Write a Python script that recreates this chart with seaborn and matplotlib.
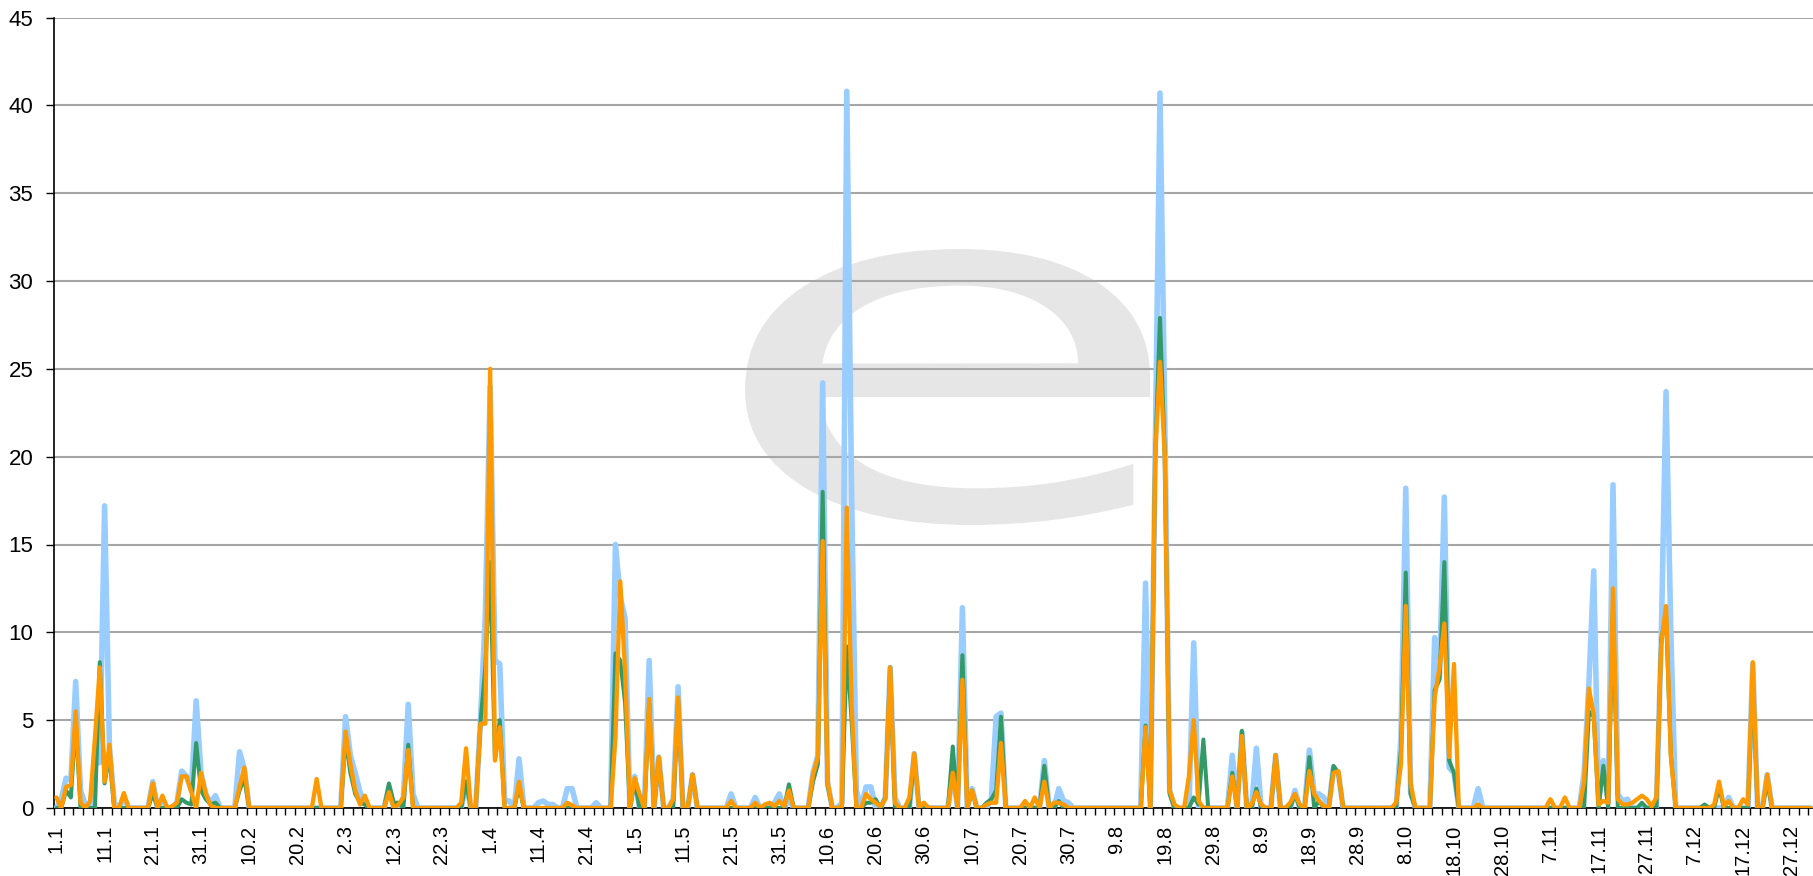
import numpy as np
import pandas as pd
import matplotlib
matplotlib.use('Agg')
import matplotlib.pyplot as plt
import seaborn as sns
from matplotlib.textpath import TextPath
from matplotlib.patches import PathPatch
from matplotlib.font_manager import FontProperties
from matplotlib.transforms import Affine2D

# daily values for one (non leap) year, only non-zero days are listed
n_days = 365
blue_peaks = {1: 0.5, 2: 1.7, 3: 1.6, 4: 7.2, 5: 1.0, 6: 0.2, 8: 2.5, 9: 2.6, 10: 17.2, 11: 3.5, 12: 0.3,
              14: 0.6, 20: 1.5, 22: 0.5, 25: 0.3, 26: 2.1, 27: 1.8, 28: 1.0, 29: 6.1, 30: 2.0, 31: 0.8,
              32: 0.3, 33: 0.7, 38: 3.2, 39: 2.2,
              60: 5.2, 61: 3.0, 62: 2.0, 63: 0.9, 64: 0.3, 69: 1.2, 72: 0.6, 73: 5.9, 74: 0.8, 85: 1.5,
              88: 5.0, 89: 11.0, 90: 24.0, 91: 8.4, 92: 8.2, 93: 0.4, 94: 0.4, 96: 2.8, 100: 0.3,
              101: 0.4, 102: 0.2, 103: 0.2, 106: 1.1, 107: 1.1, 112: 0.3, 116: 15.0, 117: 12.0, 118: 10.8,
              120: 1.8, 123: 8.4, 125: 2.9, 128: 0.5, 129: 6.9, 132: 1.9, 140: 0.8, 145: 0.6, 149: 0.3,
              150: 0.8, 152: 0.5,
              157: 2.0, 158: 3.0, 159: 24.2, 160: 1.5, 163: 0.3, 164: 40.8, 165: 18.0, 166: 1.0, 168: 1.2,
              169: 1.2, 172: 0.6, 173: 8.0, 174: 0.6, 178: 3.1, 186: 2.0, 188: 11.4, 190: 1.1, 194: 0.5,
              195: 5.2, 196: 5.4, 205: 2.7, 208: 1.1, 209: 0.4, 210: 0.3,
              226: 12.8, 228: 20.0, 229: 40.7, 230: 22.0, 231: 1.0, 236: 9.4, 244: 3.0, 246: 4.3,
              249: 3.4, 253: 3.0, 257: 1.0, 260: 3.3, 261: 0.8, 262: 0.8, 263: 0.6, 265: 2.3, 266: 2.0,
              279: 4.0, 280: 18.2, 281: 0.9, 286: 9.7, 287: 7.5, 288: 17.7, 289: 2.3, 290: 2.0, 295: 1.1,
              317: 2.0, 318: 7.1, 319: 13.5, 320: 0.3, 321: 2.7, 322: 0.3, 323: 18.4, 324: 0.8, 325: 0.4,
              326: 0.5, 333: 9.5, 334: 23.7, 335: 10.0, 347: 0.6, 352: 8.2, 355: 1.9}
green_peaks = {2: 1.0, 3: 0.6, 4: 5.0, 9: 8.3, 10: 1.4, 11: 3.0, 20: 0.8, 26: 0.5, 27: 0.3, 28: 0.2,
               29: 3.7, 30: 1.0, 31: 0.5, 32: 0.2, 33: 0.3, 38: 1.0, 39: 1.7,
               60: 4.0, 61: 2.0, 62: 0.8, 63: 0.3, 64: 0.2, 69: 1.4, 70: 0.3, 71: 0.3, 73: 3.6, 85: 1.5,
               88: 4.9, 89: 8.0, 90: 14.0, 91: 2.8, 92: 5.0, 96: 1.2,
               116: 8.8, 117: 8.4, 118: 6.0, 120: 1.5, 123: 6.0, 125: 2.8, 129: 6.2, 132: 1.9, 152: 1.35,
               157: 1.5, 158: 2.5, 159: 18.0, 160: 1.3, 164: 9.2, 165: 5.0, 168: 0.3, 169: 0.3, 170: 0.5,
               172: 0.6, 173: 8.0, 178: 3.0, 186: 3.5, 188: 8.7, 190: 1.0, 193: 0.3, 194: 0.5, 195: 1.0,
               196: 5.2, 205: 2.4, 208: 0.4,
               226: 4.7, 228: 20.0, 229: 27.9, 230: 20.0, 231: 0.8, 236: 0.6, 237: 0.2, 238: 3.9,
               244: 2.0, 246: 4.4, 249: 1.1, 253: 3.0, 257: 0.8, 260: 2.9, 262: 0.4, 265: 2.4, 266: 2.0,
               279: 3.3, 280: 13.4, 281: 0.8, 286: 6.7, 287: 7.3, 288: 14.0, 289: 2.7, 290: 2.0,
               318: 5.5, 319: 5.2, 321: 2.4, 323: 11.5, 329: 0.3, 333: 9.6, 334: 11.0, 335: 3.0,
               342: 0.2, 345: 1.2, 352: 7.5, 355: 1.5}
orange_peaks = {0: 0.6, 2: 1.2, 3: 1.3, 4: 5.5, 5: 0.3, 7: 0.4, 8: 4.0, 9: 8.0, 10: 1.5, 11: 3.6, 14: 0.85,
                20: 1.4, 22: 0.7, 24: 0.1, 25: 0.3, 26: 1.8, 27: 1.8, 28: 0.9, 30: 2.0, 31: 0.8, 32: 0.15,
                38: 1.2, 39: 2.3,
                54: 1.65, 60: 4.35, 61: 2.5, 62: 1.0, 63: 0.2, 64: 0.7, 69: 0.9, 71: 0.2, 72: 0.6, 73: 3.3,
                84: 0.3, 85: 3.4, 88: 4.8, 89: 4.8, 90: 25.0, 91: 2.7, 92: 4.6, 96: 1.5, 106: 0.3,
                107: 0.15, 116: 4.0, 117: 12.9, 118: 7.8, 120: 1.7, 121: 0.8, 123: 6.2, 125: 2.9,
                128: 0.5, 129: 6.3, 132: 1.9, 140: 0.4, 145: 0.3, 147: 0.2, 148: 0.3, 149: 0.1, 150: 0.4,
                151: 0.1, 152: 1.0,
                157: 1.9, 158: 2.9, 159: 15.2, 160: 1.5, 163: 0.1, 164: 17.1, 165: 6.0, 168: 0.8,
                169: 0.5, 170: 0.3, 171: 0.1, 172: 0.5, 173: 8.0, 174: 0.3, 177: 0.6, 178: 3.1, 180: 0.3,
                186: 2.0, 188: 7.3, 190: 1.0, 193: 0.2, 194: 0.3, 195: 0.3, 196: 3.7, 201: 0.4, 203: 0.6,
                205: 1.5, 207: 0.3, 208: 0.3, 209: 0.2,
                226: 4.6, 228: 20.0, 229: 25.4, 230: 20.0, 231: 1.0, 232: 0.2, 235: 1.8, 236: 5.0,
                237: 0.4, 244: 1.8, 246: 4.1, 248: 0.2, 249: 0.9, 250: 0.2, 253: 3.0, 256: 0.3, 257: 0.8,
                258: 0.2, 260: 2.1, 261: 0.8, 262: 0.4, 263: 0.1, 265: 2.0, 266: 2.1, 278: 0.3, 279: 2.5,
                280: 11.5, 281: 1.4, 286: 6.3, 287: 8.0, 288: 10.5, 289: 2.9, 290: 8.2, 295: 0.2,
                310: 0.5, 313: 0.6, 317: 1.5, 318: 6.8, 319: 5.3, 320: 0.2, 321: 0.4, 322: 0.3,
                323: 12.5, 324: 0.5, 325: 0.2, 326: 0.2, 327: 0.3, 328: 0.5, 329: 0.7, 330: 0.5,
                331: 0.1, 332: 0.6, 333: 9.3, 334: 11.5, 335: 3.0, 344: 0.2, 345: 1.5, 346: 0.1,
                347: 0.4, 350: 0.5, 351: 0.2, 352: 8.3, 355: 1.9}

tick_labels = ['1.1', '11.1', '21.1', '31.1', '10.2', '20.2', '2.3', '12.3', '22.3', '1.4', '11.4',
               '21.4', '1.5', '11.5', '21.5', '31.5', '10.6', '20.6', '30.6', '10.7', '20.7', '30.7',
               '9.8', '19.8', '29.8', '8.9', '18.9', '28.9', '8.10', '18.10', '28.10', '7.11', '17.11',
               '27.11', '7.12', '17.12', '27.12']


def build(peaks):
    s = np.zeros(n_days)
    for k, v in peaks.items():
        s[k] = v
    return s


days = np.arange(n_days)
df = pd.DataFrame({'day': days,
                   'blue': build(blue_peaks),
                   'green': build(green_peaks),
                   'orange': build(orange_peaks)})

sns.set_theme(style='white')
plt.rcParams['font.family'] = ['Liberation Sans', 'DejaVu Sans']

W, H = 1813, 876
fig = plt.figure(figsize=(W / 100, H / 100), dpi=100)
ax = fig.add_axes([54 / W, 1 - 808 / H, 1 - 54 / W, (808 - 17.5) / H])

# faint logo watermark behind the grid, stretched into its box (pixels from bottom-left)
logo = TextPath((0, 0), 'e', size=1, prop=FontProperties(family='DejaVu Sans'))
ext = logo.get_extents()
box_x0, box_x1, box_y0, box_y1 = 745, 1150, 876 - 525, 876 - 249
to_box = (Affine2D().translate(-ext.x0, -ext.y0)
          .scale((box_x1 - box_x0) / ext.width, (box_y1 - box_y0) / ext.height)
          .translate(box_x0, box_y0).scale(1 / W, 1 / H))
ax.add_patch(PathPatch(logo, transform=to_box + fig.transFigure, facecolor='#e6e6e6',
                       edgecolor='none', zorder=0.2))

series = [('blue', '#99ccff', 4.0), ('green', '#339966', 2.9), ('orange', '#ff9900', 3.1)]
for i, (col, colour, lw) in enumerate(series):
    sns.lineplot(data=df, x='day', y=col, color=colour, linewidth=lw, ax=ax,
                 solid_joinstyle='round', solid_capstyle='round', zorder=3 + i)

ax.set_xlim(-0.5, n_days - 0.5)
ax.set_ylim(0, 45)
ax.set_xlabel('')
ax.set_ylabel('')

ax.set_yticks(range(0, 46, 5))
ax.yaxis.grid(True, color='#a6a6a6', linewidth=1.5)
ax.xaxis.grid(False)
ax.set_axisbelow(True)

ax.set_xticks(np.arange(0, n_days, 10))
ax.set_xticklabels(tick_labels, rotation=90)
ax.set_xticks(np.arange(-0.5, n_days, 2), minor=True)
ax.tick_params(axis='x', which='major', length=0, pad=12, labelsize=14.5, labelcolor='black')
ax.tick_params(axis='x', which='minor', bottom=True, length=5, width=1, color='black', direction='out')
ax.tick_params(axis='y', left=True, length=6, width=1, color='black', labelsize=16, pad=9,
               labelcolor='black', direction='out')

for side in ['top', 'right']:
    ax.spines[side].set_visible(False)
for side in ['left', 'bottom']:
    ax.spines[side].set_color('black')
    ax.spines[side].set_linewidth(1.2)

fig.savefig('out.png', dpi=100)
